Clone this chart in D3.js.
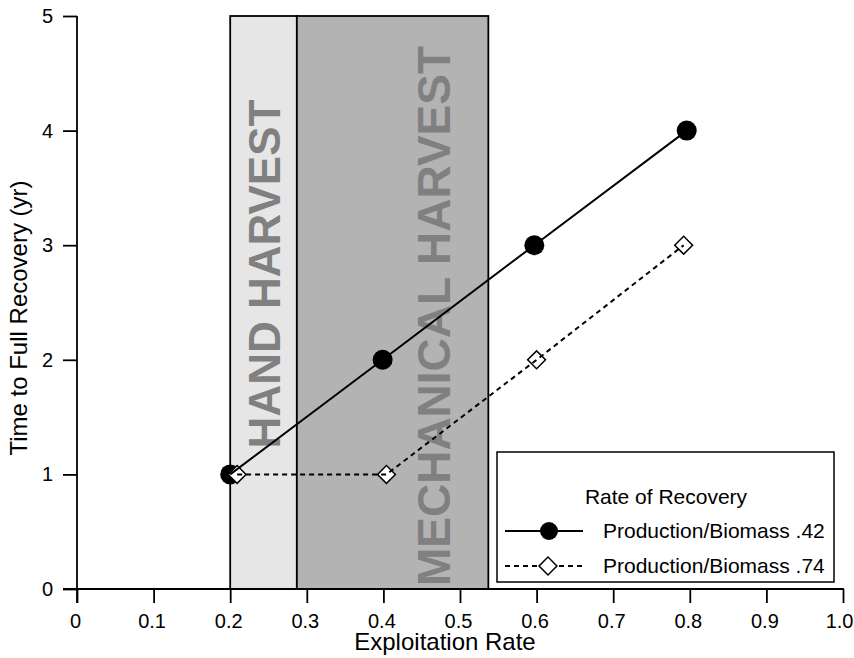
<!DOCTYPE html>
<html><head><meta charset="utf-8">
<script src="https://cdn.jsdelivr.net/npm/d3@7"></script>
<style>body{margin:0;background:#fff}svg{display:block;font-family:"Liberation Sans",Arial,sans-serif}</style>
</head><body><svg id="c" width="854" height="658"></svg>
<script>
const xTicks = [0,0.1,0.2,0.3,0.4,0.5,0.6,0.7,0.8,0.9,1.0];
const xTickLabels = ["0","0.1","0.2","0.3","0.4","0.5","0.6","0.7","0.8","0.9","1.0"];
const yTicks = [0,1,2,3,4,5];
const bandNames = ["HAND HARVEST","MECHANICAL HARVEST"];
const bandStart = [0.2, 0.287];
const bandEnd = [0.287, 0.537];
const seriesNames = ["Production/Biomass .42","Production/Biomass .74"];
const s1x = [0.2, 0.399, 0.597, 0.796];
const s1y = [1, 2, 3, 4];
const s2x = [0.209, 0.404, 0.600, 0.792];
const s2y = [1, 1, 2, 3];

const F = "Liberation Sans, Arial, sans-serif";
const svg = d3.select("#c");
const x = d3.scaleLinear().domain([0,1]).range([77,843]);
const y = d3.scaleLinear().domain([0,5]).range([589,16]);

// bands
const bandFill = ["#e6e6e6","#b3b3b3"];
bandNames.forEach((n,i)=>{
  svg.append("rect").attr("x",x(bandStart[i])).attr("y",y(5))
    .attr("width",x(bandEnd[i])-x(bandStart[i])).attr("height",y(0)-y(5))
    .attr("fill",bandFill[i]).attr("stroke","#000").attr("stroke-width",1.8);
});
const bandTextY = [274, 316];
const bandTextDx = [16, 57];
const bandTextSize = [44, 46];
bandNames.forEach((n,i)=>{
  const cx = (x(bandStart[i])+x(bandEnd[i]))/2 + bandTextDx[i];
  svg.append("text").attr("transform",`translate(${cx},${bandTextY[i]}) rotate(-90)`)
    .attr("text-anchor","middle").attr("font-weight","bold").attr("font-size",bandTextSize[i])
    .attr("fill","#808080").text(n);
});

// axes
const gx = svg.append("g").attr("transform",`translate(0,${y(0)})`)
  .call(d3.axisBottom(x).tickValues(xTicks).tickFormat((d,i)=>xTickLabels[i]).tickSize(14).tickPadding(11));
gx.select(".domain").remove();
gx.selectAll("line").attr("stroke-width",1.8);
gx.selectAll("text").attr("font-size",20).attr("font-family",F).attr("dx",-2);
gx.selectAll(".tick").filter(d=>d===1).select("text").attr("text-anchor","end").attr("dx",0).attr("x",853-x(1));
svg.append("line").attr("x1",x(0)-14).attr("x2",x(1)+1).attr("y1",y(0)).attr("y2",y(0)).attr("stroke","#000").attr("stroke-width",2);

const gy = svg.append("g").attr("transform",`translate(${x(0)},0)`)
  .call(d3.axisLeft(y).tickValues(yTicks).tickFormat(d3.format("d")).tickSize(14).tickPadding(10));
gy.select(".domain").remove();
gy.selectAll("line").attr("stroke-width",1.8);
gy.selectAll("text").attr("font-size",20).attr("font-family",F);
svg.append("line").attr("x1",x(0)).attr("x2",x(0)).attr("y1",y(5)).attr("y2",y(0)+14).attr("stroke","#000").attr("stroke-width",1.8);

svg.append("text").attr("x",445).attr("y",650).attr("text-anchor","middle")
  .attr("font-size",24).text("Exploitation Rate");
svg.append("text").attr("transform",`translate(27,318) rotate(-90)`).attr("text-anchor","middle")
  .attr("font-size",24).text("Time to Full Recovery (yr)");

// markers
const d1 = s1x.map((v,i)=>[v,s1y[i]]);
const d2 = s2x.map((v,i)=>[v,s2y[i]]);
svg.selectAll(".c1").data(d1).enter().append("circle")
  .attr("cx",d=>x(d[0])).attr("cy",d=>y(d[1])).attr("r",10).attr("fill","#000");
const diamond = d3.symbol().type(d3.symbolSquare).size(160);
svg.selectAll(".d2").data(d2).enter().append("path").attr("d",diamond())
  .attr("transform",d=>`translate(${x(d[0])},${y(d[1])}) rotate(45)`)
  .attr("fill","#fff").attr("stroke","#000").attr("stroke-width",1.5);
const line = d3.line().x(d=>x(d[0])).y(d=>y(d[1]));
svg.append("path").datum(d1).attr("d",line).attr("fill","none").attr("stroke","#000").attr("stroke-width",2);
svg.append("path").datum(d2).attr("d",line).attr("fill","none").attr("stroke","#000").attr("stroke-width",2).attr("stroke-dasharray","5,4");

// legend
const lg = svg.append("g");
lg.append("rect").attr("x",497).attr("y",452).attr("width",337).attr("height",130)
  .attr("fill","#fff").attr("stroke","#000").attr("stroke-width",1.5);
lg.append("text").attr("x",666).attr("y",504).attr("text-anchor","middle").attr("font-size",21).text("Rate of Recovery");
const ly = [531, 566];
lg.append("line").attr("x1",505).attr("x2",583).attr("y1",ly[0]).attr("y2",ly[0]).attr("stroke","#000").attr("stroke-width",2);
lg.append("circle").attr("cx",549).attr("cy",ly[0]).attr("r",9).attr("fill","#000");
lg.append("line").attr("x1",505).attr("x2",583).attr("y1",ly[1]).attr("y2",ly[1]).attr("stroke","#000").attr("stroke-width",2).attr("stroke-dasharray","5,4");
lg.append("path").attr("d",diamond()).attr("transform",`translate(548,${ly[1]}) rotate(45)`).attr("fill","#fff").attr("stroke","#000").attr("stroke-width",1.5);
seriesNames.forEach((n,i)=>{
  lg.append("text").attr("x",603).attr("y",ly[i]+7).attr("font-size",21).text(n);
});
</script></body></html>
